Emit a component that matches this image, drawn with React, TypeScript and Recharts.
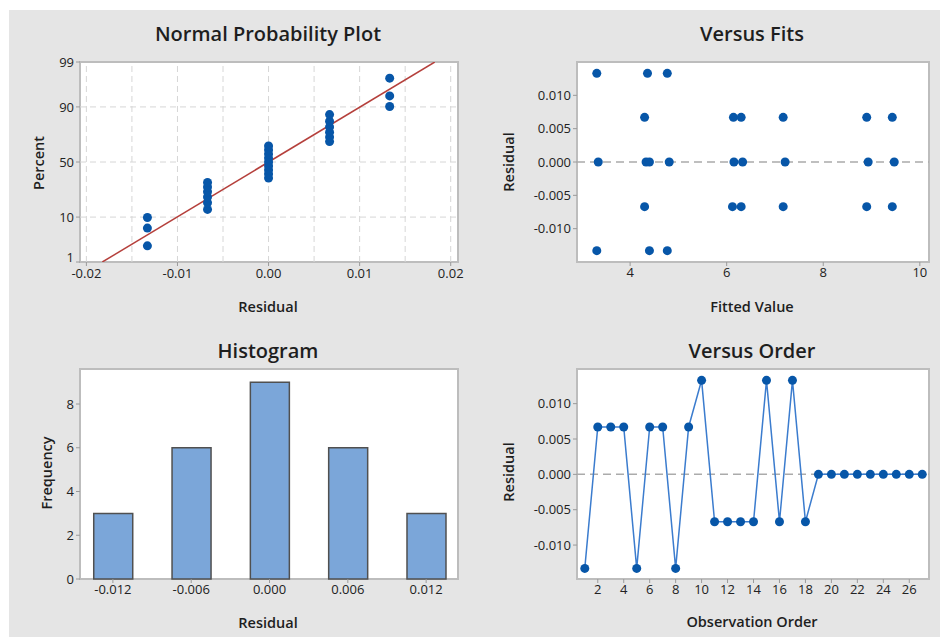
import React from 'react'
import {
  ScatterChart,
  Scatter,
  LineChart,
  Line,
  BarChart,
  Bar,
  XAxis,
  YAxis,
  ReferenceLine,
} from 'recharts'

// residuals in observation order
const RESIDUALS = [
  -0.0133, 0.0067, 0.0067, 0.0067, -0.0133, 0.0067, 0.0067, -0.0133, 0.0067, 0.0133,
  -0.0067, -0.0067, -0.0067, -0.0067, 0.0133, -0.0067, 0.0133, -0.0067,
  0, 0, 0, 0, 0, 0, 0, 0, 0,
]
const FITTED = [
  3.31, 4.3, 6.14, 6.3, 4.4, 7.17, 8.9, 4.77, 9.43, 3.31,
  4.3, 6.12, 6.3, 7.17, 4.36, 8.9, 4.77, 9.43,
  3.34, 4.33, 4.4, 4.81, 6.15, 6.33, 7.21, 8.93, 9.47,
]
const HIST_BINS = [-0.012, -0.006, 0, 0.006, 0.012]
const HIST_COUNTS = [3, 6, 9, 6, 3]

const PCT_TICKS = [1, 10, 50, 90, 99]
const PCT_GRID = [10, 50, 90]
const PROB_X_TICKS = [-0.02, -0.01, 0, 0.01, 0.02]
const PROB_X_GRID = [-0.02, -0.015, -0.01, -0.005, 0, 0.005, 0.01, 0.015, 0.02]
const RESID_TICKS = [-0.01, -0.005, 0, 0.005, 0.01]
const FIT_TICKS = [4, 6, 8, 10]
const ORDER_TICKS = [2, 4, 6, 8, 10, 12, 14, 16, 18, 20, 22, 24, 26]
const FREQ_TICKS = [0, 2, 4, 6, 8]

// inverse standard normal cdf (Acklam)
function invNorm(p: number): number {
  const a = [-39.69683028665376, 220.9460984245205, -275.9285104469687, 138.357751867269, -30.66479806614716, 2.506628277459239]
  const b = [-54.47609879822406, 161.5858368580409, -155.6989798598866, 66.80131188771972, -13.28068155288572]
  const c = [-0.007784894002430293, -0.3223964580411365, -2.400758277161838, -2.549732539343734, 4.374664141464968, 2.938163982698783]
  const d = [0.007784695709041462, 0.3224671290700398, 2.445134137142996, 3.754408661907416]
  const tail = (q: number) =>
    (((((c[0] * q + c[1]) * q + c[2]) * q + c[3]) * q + c[4]) * q + c[5]) /
    ((((d[0] * q + d[1]) * q + d[2]) * q + d[3]) * q + 1)
  if (p < 0.02425) return tail(Math.sqrt(-2 * Math.log(p)))
  if (p > 1 - 0.02425) return -tail(Math.sqrt(-2 * Math.log(1 - p)))
  const q = p - 0.5
  const r = q * q
  return (
    ((((((a[0] * r + a[1]) * r + a[2]) * r + a[3]) * r + a[4]) * r + a[5]) * q) /
    (((((b[0] * r + b[1]) * r + b[2]) * r + b[3]) * r + b[4]) * r + 1)
  )
}

const n = RESIDUALS.length
const sorted = [...RESIDUALS].sort((x, y) => x - y)
const probData = sorted.map((r, i) => ({ x: r, z: invNorm((i + 1 - 0.3) / (n + 0.4)) }))
const mean = RESIDUALS.reduce((s, v) => s + v, 0) / n
const sd = Math.sqrt(RESIDUALS.reduce((s, v) => s + (v - mean) ** 2, 0) / (n - 1))
const zLo = invNorm(PCT_TICKS[0] / 100)
const zHi = invNorm(PCT_TICKS[PCT_TICKS.length - 1] / 100)
const fitLine = [
  { x: mean + zLo * sd, z: zLo },
  { x: mean + zHi * sd, z: zHi },
]
const fitsData = RESIDUALS.map((r, i) => ({ fit: FITTED[i], res: r }))
const orderData = RESIDUALS.map((r, i) => ({ obs: i + 1, res: r }))
const histData = HIST_BINS.map((b, i) => ({ bin: b, count: HIST_COUNTS[i] }))

const FONT = '"Segoe UI", "Open Sans", "Noto Sans", sans-serif'
const DOT = '#0756a8'
const tick = { fontSize: 13, fill: '#222', fontFamily: FONT }
const tickLine = { stroke: '#9a9a9a' }

const Dot = (p: any) => <circle cx={p.cx} cy={p.cy} r={4.5} fill={DOT} />
const NoDot = () => <g />

function Frame({ x, y, w, h }: { x: number; y: number; w: number; h: number }) {
  return (
    <div
      style={{
        position: 'absolute',
        left: x - 1,
        top: y - 1,
        width: w + 2,
        height: h + 2,
        boxSizing: 'border-box',
        border: '2px solid #bdbdbd',
        background: '#fff',
      }}
    />
  )
}

function Text({ x, y, size, children, rotate, weight = 600 }: { x: number; y: number; size: number; children: string; rotate?: boolean; weight?: number }) {
  return (
    <div
      style={{
        position: 'absolute',
        left: x,
        top: y,
        transform: `translate(-50%, -50%)${rotate ? ' rotate(-90deg)' : ''}`,
        fontFamily: FONT,
        fontSize: size,
        fontWeight: weight,
        color: '#1e1e1e',
        whiteSpace: 'nowrap',
        lineHeight: 1,
      }}
    >
      {children}
    </div>
  )
}

const pctLabel = (z: number) => {
  const hit = PCT_TICKS.find((p) => Math.abs(invNorm(p / 100) - z) < 1e-6)
  return hit === undefined ? '' : String(hit)
}

// percent tick; the bottom one is nudged up so it clears the x labels
const PctTick = (p: any) => {
  const label = pctLabel(p.payload.value)
  const lift = label === String(PCT_TICKS[0]) ? -5 : 0
  return (
    <text x={p.x} y={p.y + lift} dy="0.355em" textAnchor="end" fontSize={13} fill="#222" fontFamily={FONT}>
      {label}
    </text>
  )
}

export default function App() {
  return (
    <div style={{ position: 'absolute', left: 0, top: 0, width: 940, height: 637, background: '#fff', overflow: 'hidden' }}>
      <div style={{ position: 'absolute', left: 9, top: 10, width: 931, height: 627, background: '#e5e5e5' }} />

      {/* Normal probability plot */}
      <Frame x={80} y={62} w={378} h={200} />
      <div style={{ position: 'absolute', left: 0, top: 0 }}>
        <ScatterChart width={470} height={320} margin={{ top: 62, right: 12, bottom: 28, left: 40 }}>
          <XAxis type="number" dataKey="x" domain={[-0.0207, 0.0208]} ticks={PROB_X_TICKS} tickFormatter={(v) => v.toFixed(2)} tick={tick} tickLine={tickLine} axisLine={false} tickSize={4} tickMargin={3} height={30} allowDataOverflow />
          <YAxis type="number" dataKey="z" domain={[zLo, zHi]} ticks={PCT_TICKS.map((p) => invNorm(p / 100))} tick={<PctTick />} tickLine={tickLine} axisLine={false} tickSize={4} width={40} allowDataOverflow />
          {PROB_X_GRID.map((v) => (
            <ReferenceLine key={'gx' + v} x={v} stroke="#d6d6d6" strokeDasharray="6 4" />
          ))}
          {PCT_GRID.map((p) => (
            <ReferenceLine key={'gy' + p} y={invNorm(p / 100)} stroke="#d6d6d6" strokeDasharray="6 4" />
          ))}
          <Scatter data={fitLine} line={{ stroke: '#b5403c', strokeWidth: 1.5 }} shape={NoDot} isAnimationActive={false} />
          <Scatter data={probData} shape={Dot} isAnimationActive={false} />
        </ScatterChart>
      </div>
      <Text x={268} y={34} size={20}>Normal Probability Plot</Text>
      <Text x={268} y={307} size={14.5}>Residual</Text>
      <Text x={39} y={163} size={14.5} rotate>Percent</Text>

      {/* Versus fits */}
      <Frame x={577} y={62} w={352} h={200} />
      <div style={{ position: 'absolute', left: 470, top: 0 }}>
        <ScatterChart width={470} height={320} margin={{ top: 62, right: 11, bottom: 28, left: 57 }}>
          <XAxis type="number" dataKey="fit" domain={[2.9, 10.19]} ticks={FIT_TICKS} tick={tick} tickLine={tickLine} axisLine={false} tickSize={4} height={30} allowDataOverflow />
          <YAxis type="number" dataKey="res" domain={[-0.015, 0.015]} ticks={RESID_TICKS} tickFormatter={(v) => v.toFixed(3)} tick={tick} tickLine={tickLine} axisLine={false} tickSize={4} width={50} allowDataOverflow />
          <ReferenceLine y={0} stroke="#ababab" strokeWidth={1.5} strokeDasharray="8 5" />
          <Scatter data={fitsData} shape={Dot} isAnimationActive={false} />
        </ScatterChart>
      </div>
      <Text x={752} y={34} size={20}>Versus Fits</Text>
      <Text x={752} y={307} size={14.5}>Fitted Value</Text>
      <Text x={509} y={162} size={14.5} rotate>Residual</Text>

      {/* Histogram */}
      <Frame x={80} y={369} w={378} h={210} />
      <div style={{ position: 'absolute', left: 0, top: 320 }}>
        <BarChart width={470} height={317} data={histData} margin={{ top: 49, right: 12, bottom: 28, left: 40 }}>
          <XAxis type="number" dataKey="bin" domain={[-0.01452, 0.01444]} ticks={HIST_BINS} tickFormatter={(v) => v.toFixed(3)} tick={tick} tickLine={tickLine} axisLine={false} tickSize={4} height={30} allowDataOverflow />
          <YAxis type="number" domain={[0, 9.6]} ticks={FREQ_TICKS} tick={tick} tickLine={tickLine} axisLine={false} tickSize={4} width={40} />
          <Bar dataKey="count" barSize={39} fill="#7ba6d9" stroke="#505050" strokeWidth={1.5} isAnimationActive={false} />
        </BarChart>
      </div>
      <Text x={268} y={351} size={20}>Histogram</Text>
      <Text x={268} y={623} size={14.5}>Residual</Text>
      <Text x={47} y={473} size={14.5} rotate>Frequency</Text>

      {/* Versus order */}
      <Frame x={577} y={369} w={352} h={210} />
      <div style={{ position: 'absolute', left: 470, top: 320 }}>
        <LineChart width={470} height={317} data={orderData} margin={{ top: 49, right: 11, bottom: 28, left: 57 }}>
          <XAxis type="number" dataKey="obs" domain={[0.4, 27.52]} ticks={ORDER_TICKS} tick={tick} tickLine={tickLine} axisLine={false} tickSize={4} height={30} allowDataOverflow />
          <YAxis type="number" domain={[-0.0148, 0.0149]} ticks={RESID_TICKS} tickFormatter={(v) => v.toFixed(3)} tick={tick} tickLine={tickLine} axisLine={false} tickSize={4} width={50} allowDataOverflow />
          <ReferenceLine y={0} stroke="#ababab" strokeWidth={1.5} strokeDasharray="8 5" />
          <Line dataKey="res" stroke="#3b7cce" strokeWidth={1.5} dot={{ r: 4.5, fill: DOT, stroke: DOT, strokeWidth: 0 }} isAnimationActive={false} />
        </LineChart>
      </div>
      <Text x={752} y={351} size={20}>Versus Order</Text>
      <Text x={752} y={622} size={14.5}>Observation Order</Text>
      <Text x={509} y={472} size={14.5} rotate>Residual</Text>
    </div>
  )
}
